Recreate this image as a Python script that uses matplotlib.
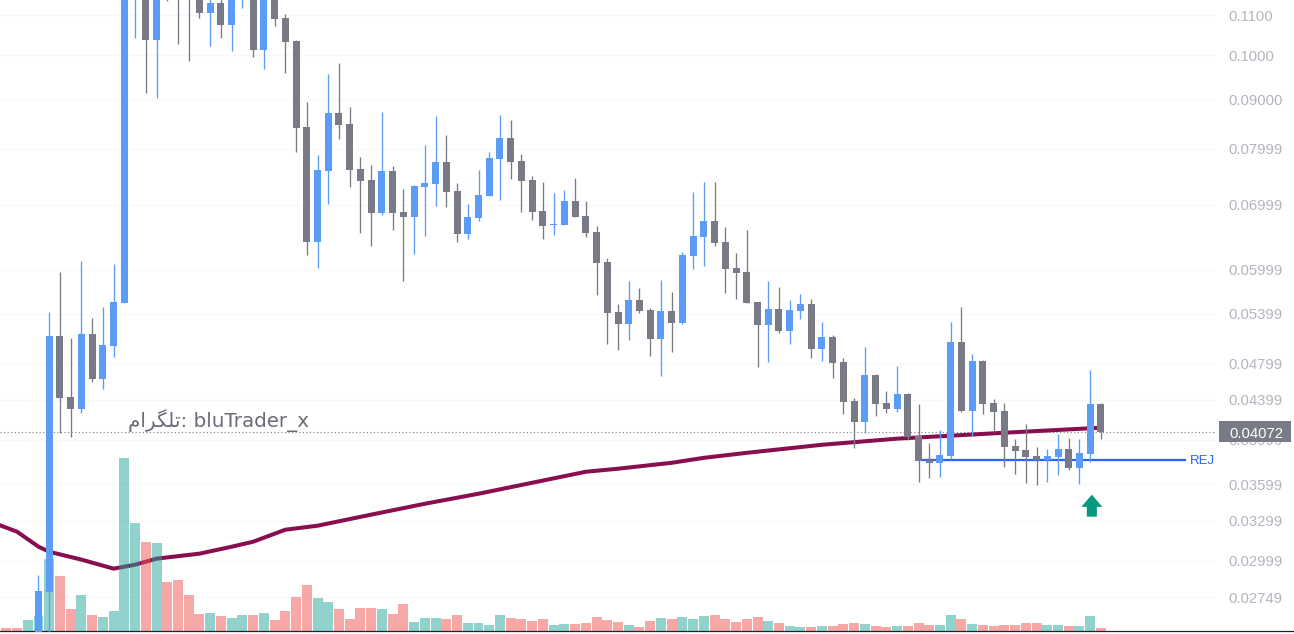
import numpy as np
import matplotlib
matplotlib.use("Agg")
import matplotlib.pyplot as plt
from matplotlib.patches import Rectangle, Polygon
from matplotlib.lines import Line2D
from matplotlib.ticker import FixedLocator, FixedFormatter, NullLocator
from matplotlib.transforms import blended_transform_factory

# ---------------- data ----------------
first_index = -3
opens = [0.0245, 0.0243, 0.0241,
         0.0250, 0.02785, 0.05124, 0.04430, 0.04305, 0.05149, 0.04624, 0.05003, 0.05542, 0.1160,
         0.1170, 0.10368, 0.1190, 0.1200, 0.1180, 0.1160, 0.11056, 0.11323, 0.10745, 0.1150,
         0.1170, 0.10124, 0.1150, 0.10924, 0.10343, 0.08427, 0.06409, 0.07590, 0.08713, 0.08488,
         0.07624, 0.07429, 0.06867, 0.07590, 0.06883, 0.06801, 0.07305, 0.07358, 0.07754, 0.07237,
         0.06532, 0.06784, 0.07150, 0.07808, 0.08209, 0.07772, 0.07429, 0.06900, 0.06674, 0.06674,
         0.07066, 0.06817, 0.06564, 0.06111, 0.05425, 0.05272, 0.05582, 0.05451, 0.05087, 0.05438,
         0.05285, 0.06198, 0.06485, 0.06738, 0.06409, 0.06023, 0.05967, 0.05555, 0.05260, 0.05462,
         0.05186, 0.05438, 0.05529, 0.04966, 0.05111, 0.04816, 0.04389, 0.04175, 0.04669, 0.04368,
         0.04305, 0.04462, 0.04038, 0.03813, 0.03786, 0.03849, 0.05051, 0.04286, 0.04827, 0.04368,
         0.04286, 0.03943, 0.03905, 0.03849, 0.03813, 0.03840, 0.03914, 0.03740, 0.03868, 0.04357]
highs = [0.0248, 0.0246, 0.0250,
         0.02900, 0.05425, 0.05967, 0.05099, 0.06125, 0.05347, 0.05489, 0.06082, 0.1200, 0.1220,
         0.1190, 0.1180, 0.1220, 0.1230, 0.1210, 0.1180, 0.1160, 0.1150, 0.1180, 0.1200,
         0.1190, 0.1180, 0.1170, 0.11030, 0.10368, 0.08945, 0.07884, 0.09561, 0.09815, 0.08838,
         0.07846, 0.07698, 0.08734, 0.07680, 0.07270, 0.07341, 0.08074, 0.08651, 0.08268, 0.07376,
         0.07016, 0.07608, 0.07941, 0.08672, 0.08570, 0.07903, 0.07499, 0.07394, 0.07202, 0.07254,
         0.07463, 0.07066, 0.06658, 0.06168, 0.05529, 0.05841, 0.05744, 0.05476, 0.05855, 0.05690,
         0.06258, 0.07219, 0.07394, 0.07394, 0.06641, 0.06243, 0.06595, 0.05555, 0.05841, 0.05757,
         0.05582, 0.05663, 0.05595, 0.05298, 0.05136, 0.04862, 0.04419, 0.04990, 0.04680, 0.04494,
         0.04770, 0.04473, 0.04357, 0.03971, 0.04096, 0.05298, 0.05489, 0.04909, 0.04839, 0.04409,
         0.04368, 0.04008, 0.04155, 0.03933, 0.03914, 0.04057, 0.04018, 0.04008, 0.04725, 0.04368]
lows = [0.0240, 0.0238, 0.0239,
        0.0247, 0.0248, 0.04067, 0.04028, 0.04265, 0.04592, 0.04515, 0.04873, 0.0554, 0.10416,
        0.09138, 0.09029, 0.1138, 0.10269, 0.09862, 0.10924, 0.10220, 0.10416, 0.10100, 0.11187,
        0.09955, 0.09674, 0.10719, 0.09584, 0.07941, 0.06213, 0.06023, 0.07016, 0.08189, 0.07305,
        0.06548, 0.06348, 0.06834, 0.06595, 0.05841, 0.06228, 0.06501, 0.06982, 0.06965, 0.06409,
        0.06454, 0.06738, 0.0714, 0.07083, 0.07445, 0.06883, 0.06754, 0.06454, 0.06517, 0.0667,
        0.0680, 0.06485, 0.05649, 0.05027, 0.04956, 0.05075, 0.05412, 0.04885, 0.04658, 0.04932,
        0.05272, 0.06008, 0.06052, 0.06348, 0.05676, 0.05595, 0.0554, 0.04758, 0.04816, 0.05161,
        0.05027, 0.05334, 0.04862, 0.04827, 0.04635, 0.04255, 0.03924, 0.04067, 0.04235, 0.04265,
        0.04276, 0.04000, 0.03619, 0.03653, 0.03662, 0.03821, 0.04276, 0.04038, 0.04255, 0.04077,
        0.03749, 0.03689, 0.03610, 0.03593, 0.03619, 0.03680, 0.03724, 0.03601, 0.03795, 0.04010]
closes = [0.0242, 0.0241, 0.0246,
          0.02791, 0.05124, 0.04419, 0.04305, 0.05149, 0.04624, 0.05015, 0.05555, 0.1180, 0.1190,
          0.10368, 0.1160, 0.1160, 0.1150, 0.1150, 0.11056, 0.11323, 0.10745, 0.1160, 0.1180,
          0.10124, 0.1160, 0.10897, 0.10319, 0.08407, 0.06409, 0.07608, 0.08713, 0.08468, 0.07608,
          0.07411, 0.06867, 0.07590, 0.06867, 0.06801, 0.07323, 0.07376, 0.07754, 0.07219, 0.06532,
          0.06801, 0.07168, 0.07827, 0.08209, 0.07754, 0.07411, 0.06883, 0.06658, 0.06690, 0.07066,
          0.06801, 0.06548, 0.06096, 0.05412, 0.05272, 0.05582, 0.05438, 0.05087, 0.05438, 0.05285,
          0.06213, 0.06501, 0.06738, 0.06394, 0.06008, 0.05953, 0.05542, 0.05260, 0.05462, 0.05186,
          0.05451, 0.05529, 0.04966, 0.05111, 0.04804, 0.04378, 0.04175, 0.04669, 0.04357, 0.04305,
          0.04462, 0.04028, 0.03804, 0.03786, 0.03859, 0.05051, 0.04286, 0.04827, 0.04357, 0.04276,
          0.03933, 0.03896, 0.03840, 0.03813, 0.03849, 0.03914, 0.03740, 0.03877, 0.04357, 0.04072]
volumes = [3, 3, 11,
           15, 72, 55, 22, 36, 16, 14, 20, 173, 108,
           89, 88, 49, 51, 36, 17, 18, 15, 13, 16,
           16, 18, 11, 20, 34, 46, 33, 29, 22, 12,
           23, 23, 22, 17, 27, 9, 13, 13, 12, 16,
           8, 8, 6, 16, 13, 12, 10, 12, 6, 7,
           7, 8, 14, 11, 9, 6, 4, 10, 13, 12,
           14, 12, 15, 16, 12, 9, 12, 14, 10, 8,
           5, 4, 4, 5, 5, 7, 8, 7, 5, 4,
           5, 5, 8, 6, 6, 16, 12, 7, 6, 5,
           6, 6, 8, 8, 6, 6, 5, 5, 15, 3]
ma_index = [-4, -2, 0, 1, 4, 7, 9, 11, 15, 18, 20, 23, 26, 31, 36, 41, 46, 51, 54,
            59, 62, 66, 73, 80, 90, 99]
ma_values = [0.03275, 0.03213, 0.03100, 0.03063, 0.03006, 0.02942, 0.02970, 0.03013,
             0.03049, 0.03100, 0.03137, 0.03228, 0.03259, 0.03346, 0.03434, 0.03517,
             0.03610, 0.03706, 0.03733, 0.03786, 0.03831, 0.03877, 0.03952, 0.04010,
             0.04067, 0.04116]
price_ticks = [0.1100, 0.1000, 0.09000, 0.07999, 0.06999, 0.05999, 0.05399, 0.04799,
               0.04399, 0.03999, 0.03599, 0.03299, 0.02999, 0.02749]
price_labels = ["0.1100", "0.1000", "0.09000", "0.07999", "0.06999", "0.05999", "0.05399",
                "0.04799", "0.04399", "0.03999", "0.03599", "0.03299", "0.02999", "0.02749"]
last_price = 0.04072
last_label = "0.04072"
rej_price = 0.03813
rej_label = "REJ"
watermark = "\uFEE1\uFE8D\uFEAE\uFB95\uFEE0\uFE97: bluTrader_x"   # تلگرام: bluTrader_x

# ---------------- style ----------------
UP, DOWN = "#5B9CF6", "#787B86"
VOL_UP, VOL_DOWN = (38/255, 166/255, 154/255, 0.5), (239/255, 83/255, 80/255, 0.5)
plt.rcParams["font.family"] = ["Liberation Sans", "DejaVu Sans"]

o = np.array(opens); h = np.array(highs); l = np.array(lows); c = np.array(closes)
x = np.arange(first_index, first_index + len(o))
up = c >= o
cols = np.where(up, UP, DOWN)
vcols = [VOL_UP if u else VOL_DOWN for u in up]

W, H = 1294, 634
fig = plt.figure(figsize=(W / 100, H / 100), dpi=100)
fig.patch.set_facecolor("white")
rect = [0, 2.5 / H, 1216 / W, 631.5 / H]
ax_bg = fig.add_axes(rect, zorder=0)
ax_vol = fig.add_axes(rect, zorder=1, sharex=ax_bg)
ax = fig.add_axes(rect, zorder=2, sharex=ax_bg, sharey=ax_bg)
ax.set_yscale("log")
ax.set_xlim(-3.587, 109.72)
ax.set_ylim(0.02533, 0.11402)
ax.yaxis.set_major_locator(FixedLocator(price_ticks))
ax.yaxis.set_major_formatter(FixedFormatter(price_labels))
ax.yaxis.set_minor_locator(NullLocator())

for a in (ax_bg, ax_vol, ax):
    for s in a.spines.values():
        s.set_visible(False)
    a.tick_params(axis="x", bottom=False, labelbottom=False)
ax_vol.patch.set_alpha(0)
ax.patch.set_alpha(0)
ax_bg.tick_params(axis="y", left=False, labelleft=False)
ax_vol.tick_params(axis="y", left=False, labelleft=False)
ax.yaxis.tick_right()
ax.tick_params(axis="y", length=0, pad=8.6, labelsize=10.7, labelcolor="#B2B5BE")
ax_bg.grid(axis="y", color="#F7F8FA", lw=0.8)

# background layer: last-price dotted line and moving average
ax_bg.axhline(last_price, color="#787B86", lw=0.8, ls=(0, (1, 2.2)))
ax_bg.plot(ma_index, ma_values, color="#880E4F", lw=2.9, solid_joinstyle="round",
           solid_capstyle="round")

# volume layer
ax_vol.bar(x, volumes, width=0.93, color=vcols, linewidth=0)
ax_vol.set_ylim(0, max(volumes) * 631.5 / 173.5)
ax_vol.tick_params(axis="y", right=False, labelright=False)

# candles
ax.plot([82, 106.83], [rej_price, rej_price], color="#2962FF", lw=1.6, zorder=1)
ax.vlines(x, l, h, colors=cols, lw=0.95, zorder=2)
ax.bar(x, np.abs(c - o), width=0.652, bottom=np.minimum(o, c), color=cols, linewidth=0, zorder=3)

ax.text(107.3, rej_price, rej_label, color="#2962FF", fontsize=9.5, ha="left",
        va="center_baseline")

# up arrow under the last blue candle
ax_x = 98.15
arrow = Polygon([(ax_x, 0.03509), (ax_x + 0.98, 0.03409), (ax_x + 0.47, 0.03409),
                 (ax_x + 0.47, 0.03330), (ax_x - 0.47, 0.03330), (ax_x - 0.47, 0.03409),
                 (ax_x - 0.98, 0.03409)], closed=True, fc="#089981", ec="none", zorder=4)
ax.add_patch(arrow)

# last price box on the scale (covers the 0.03999 scale label, as in the original)
blend = blended_transform_factory(ax.transAxes, ax.transData)
ax.add_patch(Rectangle((1219 / 1216, 0.03981), 72 / 1216, 0.04185 - 0.03981, transform=blend,
                       fc="#787B86", ec="none", clip_on=False, zorder=10))
ax.text(1256 / 1216, last_price, last_label, transform=blend, color="white", fontsize=10.7,
        ha="center", va="center_baseline", clip_on=False, zorder=11)

# watermark
fig.text(128 / W, (H - 426.5) / H, watermark, fontsize=14.3, family=["DejaVu Sans"],
         color="#6A6D78", ha="left", va="baseline")

# bottom separator line
fig.add_artist(Line2D([0, 1], [(H - 631.2) / H] * 2, transform=fig.transFigure,
                      color="#1E222D", lw=0.9))

fig.savefig("out.png", dpi=100, facecolor="white")
